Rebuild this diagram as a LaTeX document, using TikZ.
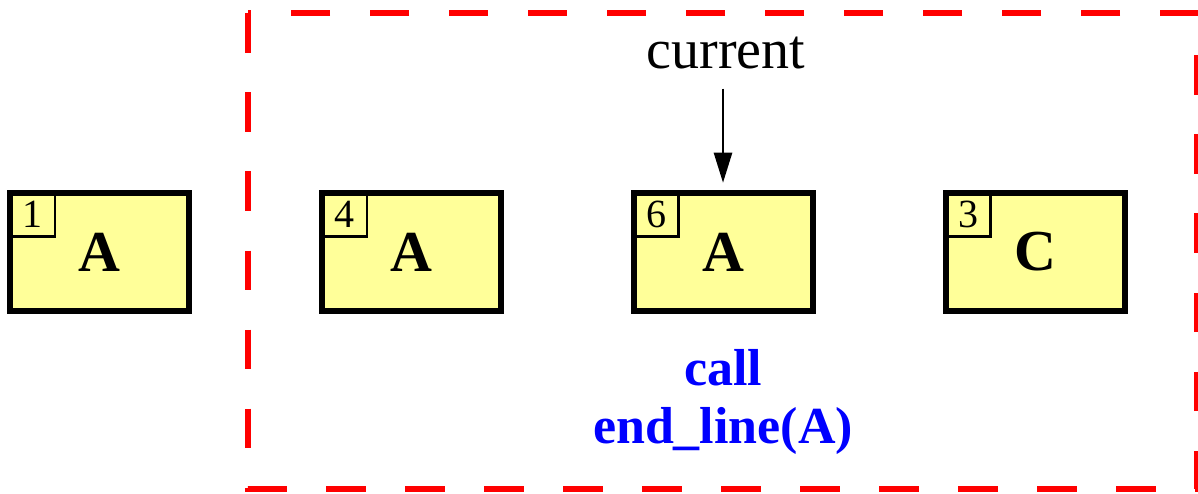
\documentclass[tikz,border=0pt]{standalone}
\usepackage{fontspec}
\setmainfont{Liberation Serif}
\usetikzlibrary{arrows.meta}
\definecolor{cellfill}{RGB}{255,255,153}
\begin{document}
\begin{tikzpicture}[x=1pt,y=-1pt,
  cell/.style={draw=black, fill=cellfill, line width=6pt, rectangle,
    minimum width=179pt, minimum height=118.5pt, inner sep=0pt, outer sep=0pt,
    font=\fontsize{58}{58}\selectfont\bfseries},
  tag/.style={draw=black, line width=2.5pt, rectangle, anchor=north west,
    minimum width=45pt, minimum height=44pt, inner sep=0pt, outer sep=0pt,
    font=\fontsize{40}{40}\selectfont},
  label/.style={inner sep=0pt, outer sep=0pt, anchor=base},
  frame/.style={draw=red, line width=6pt, dash pattern=on 39.5pt off 39.5pt, line join=miter}]
\useasboundingbox (0,0) rectangle (1198,494);

% dashed frame around the current call
\draw[frame] (248,13.5) -- (248,488.5) -- (1196.5,488.5) -- (1196.5,13.5) -- cycle;

% cells
\node[cell] (c1) at (99.5,252) {A};
\node[tag] (t1) at (c1.north west) {1};
\node[cell] (c4) at (411.5,252) {A};
\node[tag] (t4) at (c4.north west) {4};
\node[cell] (c6) at (723,252) {A};
\node[tag] (t6) at (c6.north west) {6};
\node[cell] (c3) at (1035,252) {C};
\node[tag] (t3) at (c3.north west) {3};

% pointer to the current cell
\node[label, font=\fontsize{56}{56}\selectfont] (cur) at (726,69) {current};
\draw[line width=2.5pt, -{Triangle[length=30pt,width=18pt]}, shorten <=19pt, shorten >=10pt]
  (cur.south -| c6.north) -- (c6.north);

% call annotation
\node[label, text=blue, font=\fontsize{52}{52}\selectfont\bfseries] (call1) at (723,385) {call};
\node[label, text=blue, font=\fontsize{52}{52}\selectfont\bfseries] (call2) at (723,443) {end\_line(A)};
\end{tikzpicture}
\end{document}
